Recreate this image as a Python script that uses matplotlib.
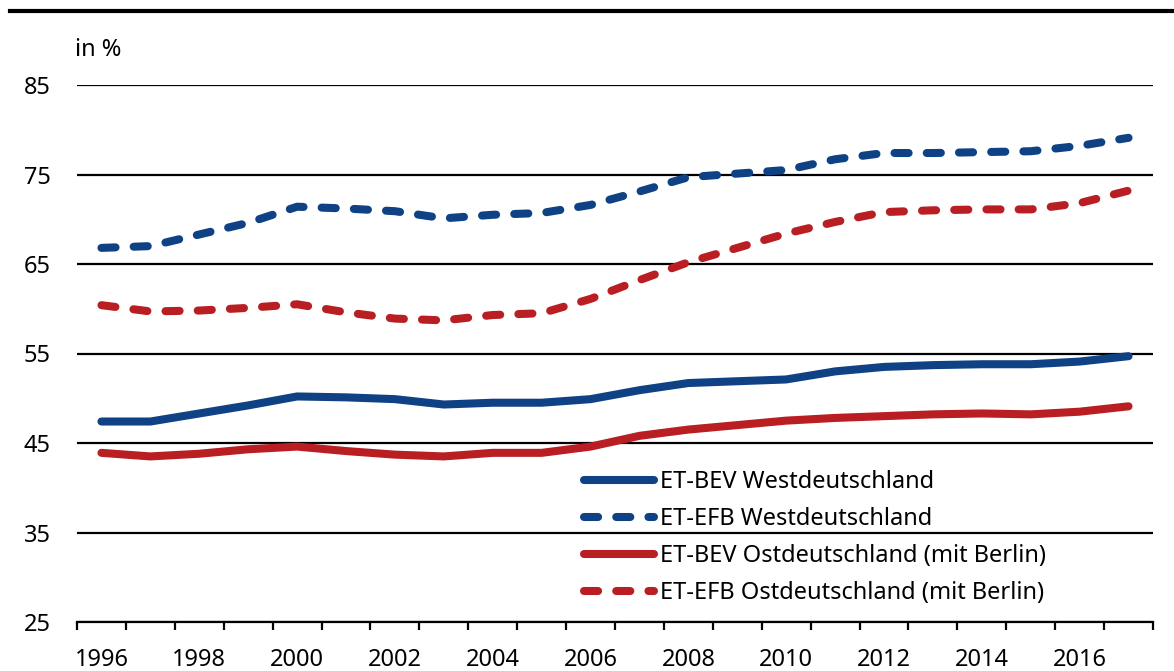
import numpy as np
import matplotlib
matplotlib.use("Agg")
import matplotlib.pyplot as plt
from matplotlib.lines import Line2D

plt.rcParams['font.family'] = ['Noto Sans', 'DejaVu Sans']

years = list(range(1996, 2018))
bev_west = [47.4, 47.4, 48.3, 49.2, 50.2, 50.1, 49.9, 49.3, 49.5, 49.5, 49.9,
            50.9, 51.7, 51.9, 52.1, 53.0, 53.5, 53.7, 53.8, 53.8, 54.1, 54.7]
efb_west = [66.8, 67.0, 68.3, 69.6, 71.4, 71.2, 70.9, 70.1, 70.5, 70.7, 71.6,
            73.1, 74.7, 75.1, 75.5, 76.7, 77.4, 77.4, 77.5, 77.6, 78.2, 79.1]
bev_ost = [43.9, 43.5, 43.8, 44.3, 44.6, 44.1, 43.7, 43.5, 43.9, 43.9, 44.6,
           45.8, 46.5, 47.0, 47.5, 47.8, 48.0, 48.2, 48.3, 48.2, 48.5, 49.1]
efb_ost = [60.4, 59.7, 59.8, 60.1, 60.5, 59.6, 58.9, 58.7, 59.3, 59.5, 61.1,
           63.2, 65.2, 66.8, 68.4, 69.7, 70.8, 71.0, 71.1, 71.1, 71.8, 73.2]
labels = ["ET-BEV Westdeutschland", "ET-EFB Westdeutschland",
          "ET-BEV Ostdeutschland (mit Berlin)", "ET-EFB Ostdeutschland (mit Berlin)"]

blue = "#0e4285"
red = "#b91e22"
lw = 5.8
dash = (1.75, 2.25)

fig = plt.figure(figsize=(11.74, 6.71), dpi=100)
ax = fig.add_axes([77/1174, 1 - 622/671, (1153 - 77)/1174, (622 - 85)/671])

ax.plot(years, bev_west, color=blue, lw=lw, solid_capstyle='round', label=labels[0])
ax.plot(years, efb_west, color=blue, lw=lw, dashes=dash, dash_capstyle='round', label=labels[1])
ax.plot(years, bev_ost, color=red, lw=lw, solid_capstyle='round', label=labels[2])
ax.plot(years, efb_ost, color=red, lw=lw, dashes=dash, dash_capstyle='round', label=labels[3])

ax.set_xlim(1995.5, 2017.5)
ax.set_ylim(25, 85)
ax.set_yticks([25, 35, 45, 55, 65, 75, 85])
ax.yaxis.grid(True, color='black', lw=1.6)
ax.set_axisbelow(True)
ax.set_xticks(years[::2])
ax.set_xticks(np.arange(1995.5, 2018, 1), minor=True)
ax.tick_params(axis='x', which='major', length=0, pad=19, labelsize=17)
ax.tick_params(axis='x', which='minor', length=6, width=1.6, direction='out')
ax.tick_params(axis='y', length=0, pad=19, labelsize=17)
for s in ['left', 'right', 'top']:
    ax.spines[s].set_visible(False)
ax.spines['bottom'].set_linewidth(1.6)

leg = ax.legend(loc='upper left', bbox_to_anchor=(0.462, 0.30), frameon=False,
                fontsize=17, handlelength=3.0, handletextpad=0.25, labelspacing=0.55,
                borderaxespad=0)

fig.text(75/1174, 1 - 50/671, "in %", fontsize=17, va='center', ha='left')
fig.add_artist(Line2D([10/1174, 1], [1 - 11/671] * 2, color='black', lw=3))

fig.savefig("out.png", dpi=100)
